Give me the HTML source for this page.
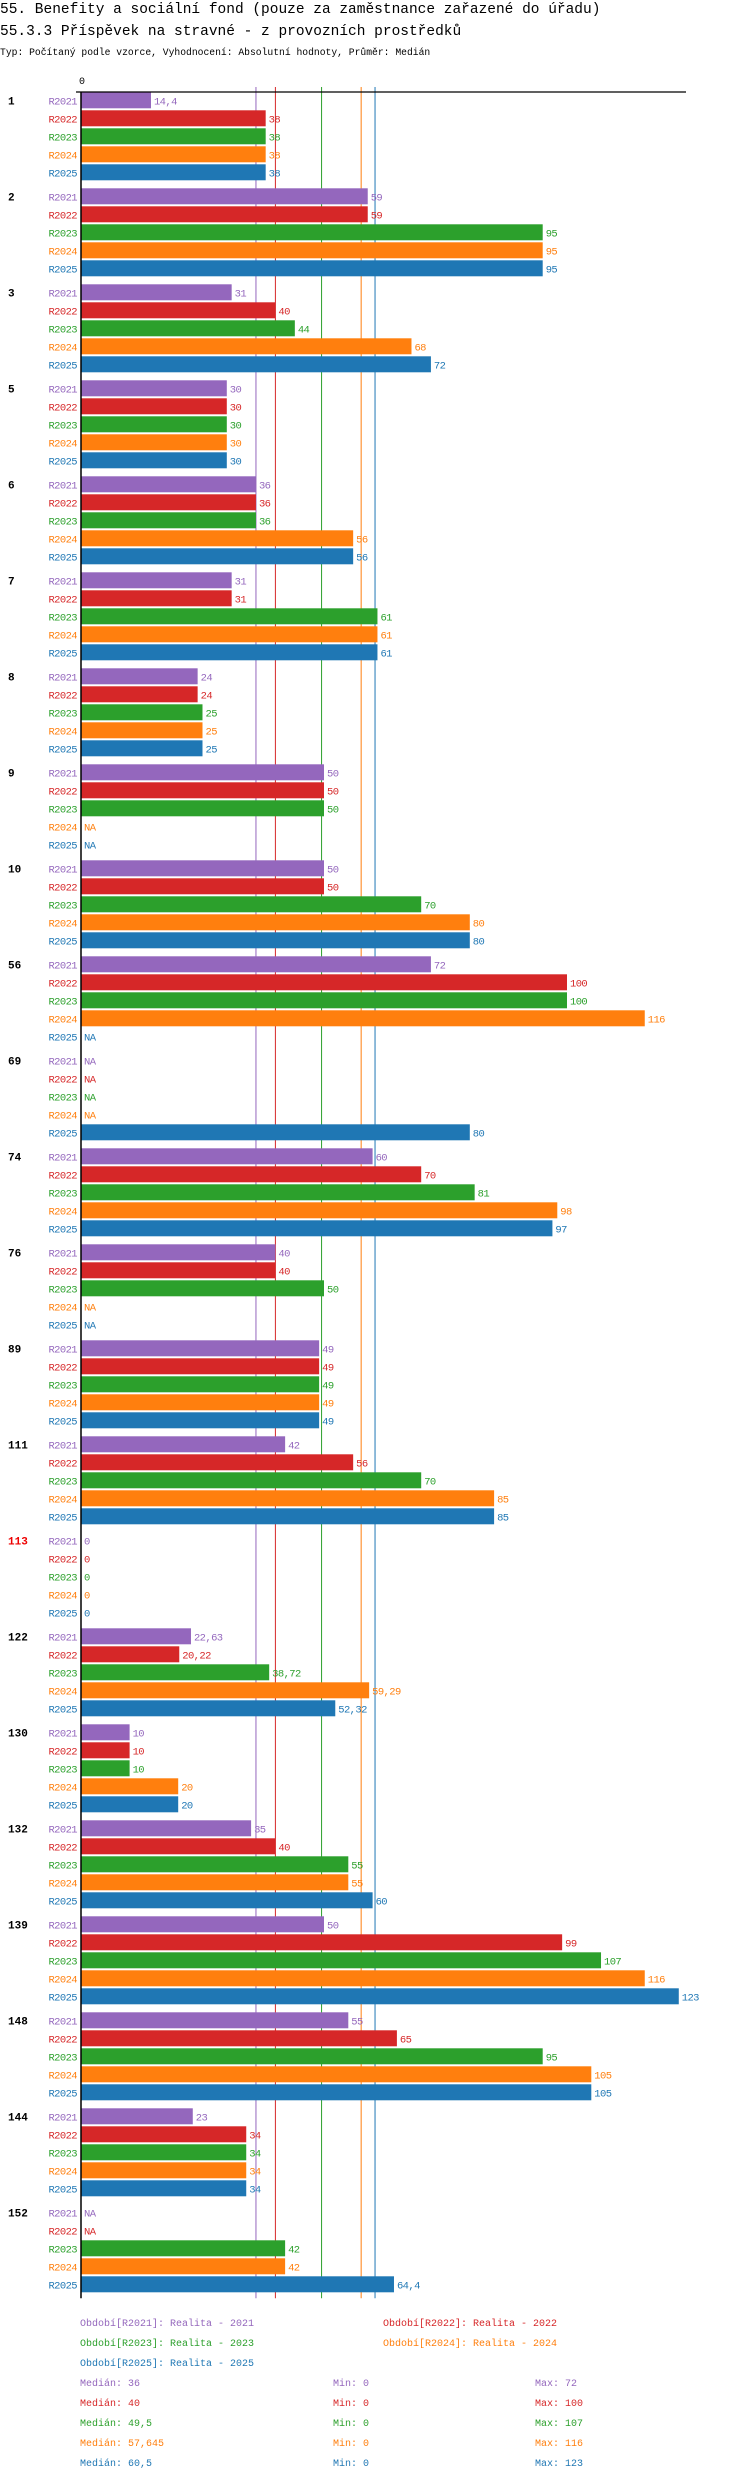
<!DOCTYPE html>
<html><head><meta charset="utf-8">
<style>
body{margin:0;background:#fff;width:750px;height:2480px;overflow:hidden;font-family:"Liberation Mono","DejaVu Sans Mono",monospace;}
svg{position:absolute;left:0;top:0;}
</style></head>
<body>
<svg id="chart" width="750" height="2480" xmlns="http://www.w3.org/2000/svg">
<text x="0" y="13" font-size="14.5">55. Benefity a sociální fond (pouze za zaměstnance zařazené do úřadu)</text>
<text x="0" y="35" font-size="14.5">55.3.3 Příspěvek na stravné - z provozních prostředků</text>
<text x="0" y="55" font-size="9.7">Typ: Počítaný podle vzorce, Vyhodnocení: Absolutní hodnoty, Průměr: Medián</text>
<g id="plot"></g>
</svg>
<script>
const groups = ["1","2","3","5","6","7","8","9","10","56","69","74","76","89","111","113","122","130","132","139","148","144","152"];
const series = ["R2021","R2022","R2023","R2024","R2025"];
const colors = ["#9467bd","#d62728","#2ca02c","#ff7f0e","#1f77b4"];
const vR2021 = [14.4,59,31,30,36,31,24,50,50,72,null,60,40,49,42,0,22.63,10,35,50,55,23,null];
const vR2022 = [38,59,40,30,36,31,24,50,50,100,null,70,40,49,56,0,20.22,10,40,99,65,34,null];
const vR2023 = [38,95,44,30,36,61,25,50,70,100,null,81,50,49,70,0,38.72,10,55,107,95,34,42];
const vR2024 = [38,95,68,30,56,61,25,null,80,116,null,98,null,49,85,0,59.29,20,55,116,105,34,42];
const vR2025 = [38,95,72,30,56,61,25,null,80,null,80,97,null,49,85,0,52.32,20,60,123,105,34,64.4];
const medians = [36,40,49.5,57.645,60.5];
const mins = [0,0,0,0,0];
const maxs = [72,100,107,116,123];
const legendLabels = ["Období[R2021]: Realita - 2021","Období[R2022]: Realita - 2022","Období[R2023]: Realita - 2023","Období[R2024]: Realita - 2024","Období[R2025]: Realita - 2025"];
const values = [vR2021,vR2022,vR2023,vR2024,vR2025];

const NS="http://www.w3.org/2000/svg";
const g=document.getElementById('plot');
const X0=81, PX=4.86;
const xs=v=>X0+v*PX;
const rowY=(gi,si)=>100.3+gi*96+si*18;
const fmt=v=>String(v).replace('.',',');
function mk(tag,attrs,txt){const e=document.createElementNS(NS,tag);for(const k in attrs)e.setAttribute(k,attrs[k]);if(txt!==undefined)e.textContent=txt;g.appendChild(e);return e;}

let t=mk('text',{x:X0-2,y:84,'font-size':10},'0');


let bottom=rowY(groups.length-1,4)+14;
medians.forEach((m,i)=>{
  const l=mk('line',{x1:xs(m),x2:xs(m),y1:87,y2:bottom,stroke:colors[i],'stroke-width':1});
  
  
});
groups.forEach((gn,gi)=>{
  const gl=mk('text',{x:8,y:rowY(gi,0)+4,'font-size':11,'font-weight':'bold',fill:gn==='113'?'#e00':'#000'},gn);
  
  
  series.forEach((s,si)=>{
    const y=rowY(gi,si), v=values[si][gi];
    const sl=mk('text',{x:77,y:y+4,'font-size':10.5,'text-anchor':'end',fill:colors[si],'letter-spacing':'-0.6'},s);
    
    
    if(v!==null && v>0){
      const b=mk('rect',{x:X0,y:y-8,width:xs(v)-X0,height:16,fill:colors[si]});
      
      
    }
    const vl=mk('text',{x:(v?xs(v):X0)+3,y:y+4,'font-size':10.5,fill:colors[si],'letter-spacing':'-0.6'},v===null?'NA':fmt(v));
    
    
  });
});
let ax=mk('line',{x1:76,x2:686,y1:92,y2:92,stroke:'#000','stroke-width':1.3});


let ay=mk('line',{x1:X0,x2:X0,y1:92,y2:bottom,stroke:'#000','stroke-width':1.5});



const legPos=[[80,2322],[383,2322],[80,2342],[383,2342],[80,2362]];
legendLabels.forEach((lab,i)=>{
  const e=mk('text',{x:legPos[i][0],y:legPos[i][1]+4,'font-size':10,fill:colors[i]},lab);
  
  
});
series.forEach((s,i)=>{
  const y=2382+i*20+4;
  const a=mk('text',{x:80,y:y,'font-size':10,fill:colors[i]},'Medián: '+fmt(medians[i]));
  
  
  const b=mk('text',{x:333,y:y,'font-size':10,fill:colors[i]},'Min: '+fmt(mins[i]));
  
  
  const c=mk('text',{x:535,y:y,'font-size':10,fill:colors[i]},'Max: '+fmt(maxs[i]));
  
  
});
</script>
</body></html>
